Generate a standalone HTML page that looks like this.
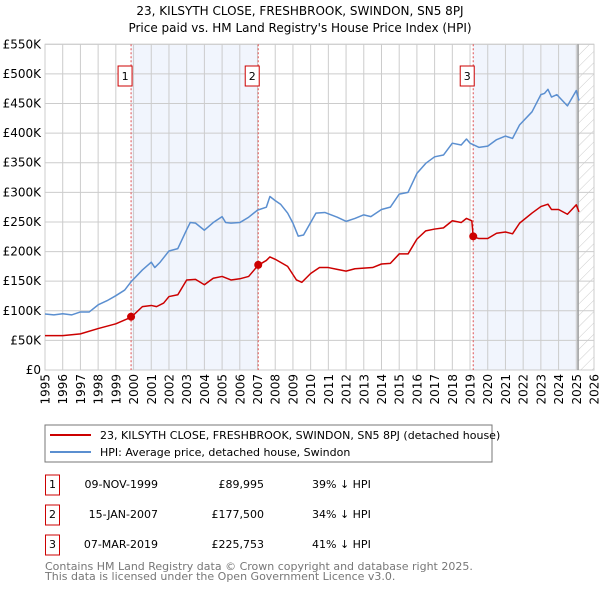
<!DOCTYPE html>
<html><head><meta charset="utf-8"><style>
body{margin:0;background:#fff;font-family:"DejaVu Sans","Liberation Sans",sans-serif;}
svg{display:block}
</style></head><body>
<svg id="c" width="600" height="590" xmlns="http://www.w3.org/2000/svg" font-family="DejaVu Sans, Liberation Sans, sans-serif">
<defs><pattern id="hatch" width="8" height="8" patternUnits="userSpaceOnUse" patternTransform="rotate(45)"><line x1="0" y1="0" x2="0" y2="8" stroke="#ccc" stroke-width="1"/></pattern></defs>
<text x="300" y="15" text-anchor="middle" font-size="12">23, KILSYTH CLOSE, FRESHBROOK, SWINDON, SN5 8PJ</text>
<text x="300" y="32" text-anchor="middle" font-size="12">Price paid vs. HM Land Registry's House Price Index (HPI)</text>
<g id="plot"></g>
<rect x="45" y="425" width="447" height="37" fill="#fff" stroke="#777"/>
<line x1="50" y1="435" x2="91" y2="435" stroke="#cc0000" stroke-width="2"/>
<text x="100" y="439" font-size="11">23, KILSYTH CLOSE, FRESHBROOK, SWINDON, SN5 8PJ (detached house)</text>
<line x1="50" y1="452" x2="91" y2="452" stroke="#5b8fd0" stroke-width="2"/>
<text x="100" y="456" font-size="11">HPI: Average price, detached house, Swindon</text>
<g font-size="11">
<rect x="45.5" y="475" width="14" height="20" fill="#fff" stroke="#cc0000"/><text x="52.5" y="488" text-anchor="middle">1</text>
<text x="158" y="488" text-anchor="end">09-NOV-1999</text><text x="264" y="488" text-anchor="end">£89,995</text><text x="312" y="488">39% ↓ HPI</text>
<rect x="45.5" y="505" width="14" height="20" fill="#fff" stroke="#cc0000"/><text x="52.5" y="518" text-anchor="middle">2</text>
<text x="158" y="518" text-anchor="end">15-JAN-2007</text><text x="264" y="518" text-anchor="end">£177,500</text><text x="312" y="518">34% ↓ HPI</text>
<rect x="45.5" y="535" width="14" height="20" fill="#fff" stroke="#cc0000"/><text x="52.5" y="548" text-anchor="middle">3</text>
<text x="158" y="548" text-anchor="end">07-MAR-2019</text><text x="264" y="548" text-anchor="end">£225,753</text><text x="312" y="548">41% ↓ HPI</text>
</g>
<text x="45" y="570" font-size="11" fill="#777">Contains HM Land Registry data © Crown copyright and database right 2025.</text>
<text x="45" y="580" font-size="11" fill="#777">This data is licensed under the Open Government Licence v3.0.</text>
</svg>
<script>
const yTicks=[0,50,100,150,200,250,300,350,400,450,500,550];
const yTickLabels=["£0","£50K","£100K","£150K","£200K","£250K","£300K","£350K","£400K","£450K","£500K","£550K"];
const xTicks=[1995,1996,1997,1998,1999,2000,2001,2002,2003,2004,2005,2006,2007,2008,2009,2010,2011,2012,2013,2014,2015,2016,2017,2018,2019,2020,2021,2022,2023,2024,2025,2026];
const saleYears=[1999.86,2007.04,2019.18];
const salePrices=[89.995,177.5,225.753];
const saleLabels=["1","2","3"];
const hpiYears=[1995,1995.5,1996,1996.5,1997,1997.5,1998,1998.5,1999,1999.5,1999.86,2000.5,2001,2001.2,2001.5,2002,2002.5,2003,2003.2,2003.5,2004,2004.5,2005,2005.2,2005.5,2006,2006.5,2007,2007.5,2007.7,2008,2008.3,2008.7,2009,2009.3,2009.6,2010,2010.3,2010.8,2011.5,2012,2012.5,2013,2013.4,2014,2014.5,2015,2015.5,2016,2016.5,2017,2017.5,2018,2018.5,2018.8,2019,2019.5,2020,2020.5,2021,2021.4,2021.8,2022.5,2023,2023.2,2023.4,2023.6,2023.9,2024.5,2025,2025.15];
const hpiValues=[94.6,93,95,93,98,98,110,117,125.5,135,149,169,182,173,182,201,205,237,249,248,236,249,259,249,248,249,258,270,275,293,286,280,265,248,226,228,249,265,266,258,251,256,262,259,271,275,297,300,332,349,360,363,383,380,390,383,376,378,389,395,391,414,436,465,467,474,461,465,446,472,455];
const priceYears=[1995,1996,1997,1998,1999,1999.86,2000.5,2001,2001.3,2001.7,2002,2002.5,2003,2003.5,2004,2004.5,2005,2005.5,2006,2006.5,2007.04,2007.5,2007.7,2008,2008.7,2009.2,2009.5,2010,2010.5,2011,2011.5,2012,2012.5,2013,2013.5,2014,2014.5,2015,2015.5,2016,2016.5,2017,2017.5,2018,2018.5,2018.8,2019.1,2019.18,2019.5,2020,2020.5,2021,2021.4,2021.8,2022.5,2023,2023.4,2023.6,2024,2024.5,2025,2025.15];
const priceValues=[58,58,61,70,78,89,107,109,107,113,124,127,152,153,144,155,158,152,154,158,177,185,191,187,175,152,148,163,173,173,170,167,171,172,173,179,180,196,196,221,235,238,240,252,249,256,252,225,222,222,231,233,230,248,265,276,280,271,271,263,279,267];

const NS="http://www.w3.org/2000/svg";
const X0=45,X1=594,Y0=370,Y1=44.3;
const x=y=>X0+(y-1995)*(X1-X0)/31;
const yv=v=>Y0-v*(Y0-Y1)/550;
const g=document.getElementById('plot');
function mk(t,a,p){const e=document.createElementNS(NS,t);for(const k in a)e.setAttribute(k,a[k]);(p||g).appendChild(e);return e;}
let r=mk('rect',{x:x(saleYears[0]),y:Y1,width:x(saleYears[1])-x(saleYears[0]),height:Y0-Y1,fill:'#eef3fc',opacity:0.8});


r=mk('rect',{x:x(saleYears[2]),y:Y1,width:x(2025.1)-x(saleYears[2]),height:Y0-Y1,fill:'#eef3fc',opacity:0.8});


r=mk('rect',{x:x(2025.1),y:Y1,width:X1-x(2025.1),height:Y0-Y1,fill:'url(#hatch)'});


yTicks.forEach((v,i)=>{
 const l=mk('line',{x1:X0,x2:X1,y1:yv(v),y2:yv(v),stroke:'#ccc','stroke-width':1});
 
 
 const t=mk('text',{x:41,y:yv(v)+4,'text-anchor':'end','font-size':12});
 t.textContent=yTickLabels[i];
 
 
});
xTicks.forEach(yr=>{
 const l=mk('line',{x1:x(yr),x2:x(yr),y1:Y1,y2:Y0,stroke:'#ccc','stroke-width':1});
 
 
 const t=mk('text',{x:0,y:0,'text-anchor':'end','font-size':12,transform:`translate(${x(yr)+4.5},374) rotate(-90)`});
 t.textContent=yr;
 
 
});
r=mk('rect',{x:X0,y:Y1,width:X1-X0,height:Y0-Y1,fill:'none',stroke:'#ccc'});


let nl=mk('line',{x1:x(2025.1),x2:x(2025.1),y1:Y1,y2:Y0,stroke:'#999','stroke-width':1.5});


saleYears.forEach((sy,i)=>{
 const l=mk('line',{x1:x(sy),x2:x(sy),y1:Y1,y2:Y0,stroke:'#e05050','stroke-dasharray':'2,2','stroke-width':1});
 
 
 const b=mk('rect',{x:x(sy)-13,y:66,width:14,height:20,fill:'#fff',stroke:'#cc0000'});
 
 
 const t=mk('text',{x:x(sy)-6,y:80,'text-anchor':'middle','font-size':11});
 t.textContent=saleLabels[i];
 
 
});
function line(xs,vs,col,name){
 const p=mk('polyline',{points:xs.map((a,i)=>x(a)+','+yv(vs[i])).join(' '),fill:'none',stroke:col,'stroke-width':1.5,'stroke-linejoin':'round'});
 
 
}
line(hpiYears,hpiValues,'#5b8fd0','hpi-line');
line(priceYears,priceValues,'#cc0000','price-line');
saleYears.forEach((sy,i)=>{
 const c=mk('circle',{cx:x(sy),cy:yv(salePrices[i]),r:4,fill:'#cc0000'});
 
 
});
</script>
</body></html>
